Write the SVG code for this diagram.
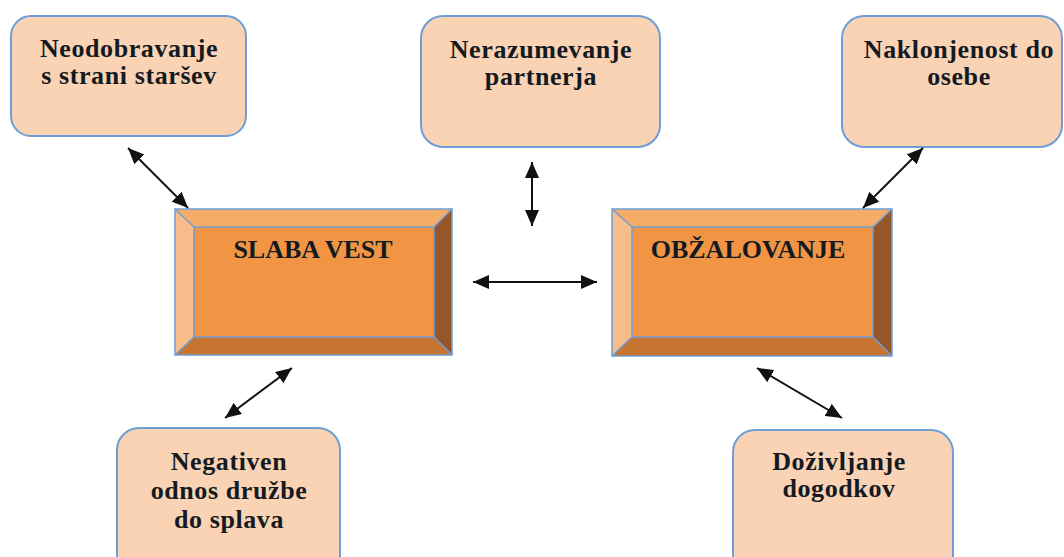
<svg xmlns="http://www.w3.org/2000/svg" width="1064" height="557" viewBox="0 0 1064 557">
<style>
.bg{fill:#ffffff}
.sbox{fill:#F9D3B4;stroke:#6E9ED6;stroke-width:2}
.st{font-family:"Liberation Serif","Times New Roman",serif;font-weight:bold;font-size:26px;fill:#141a1f;text-anchor:middle;letter-spacing:0.6px}
.mt{font-family:"Liberation Serif","Times New Roman",serif;font-weight:bold;font-size:26px;fill:#141a1f;text-anchor:middle}
.face{fill:#F19545}
.btop{fill:#F5AC68}
.bleft{fill:#F7BC8A}
.bright{fill:#975628}
.bbot{fill:#C77431}
.edge{fill:none;stroke:#6E9ED6;stroke-width:1.5}
.conn{stroke:#111;stroke-width:2;fill:none;marker-start:url(#ah);marker-end:url(#ah)}
</style>
<defs>
<marker id="ah" viewBox="0 0 16 14" refX="16" refY="7" markerWidth="16" markerHeight="14" markerUnits="userSpaceOnUse" orient="auto-start-reverse">
<path d="M0,0 L16,7 L0,14 Z" fill="#111"/>
</marker>
</defs>
<rect class="bg" x="0" y="0" width="1064" height="557"/>

<g id="n-neodobravanje">
<rect class="sbox" x="11" y="16" width="235" height="120" rx="20"/>
<text class="st" x="129" y="57">Neodobravanje</text>
<text class="st" x="129" y="84">s strani staršev</text>
</g>

<g id="n-nerazumevanje">
<rect class="sbox" x="421" y="16" width="239" height="131" rx="22"/>
<text class="st" x="541" y="58">Nerazumevanje</text>
<text class="st" x="541" y="85">partnerja</text>
</g>

<g id="n-naklonjenost">
<rect class="sbox" x="842" y="16" width="220" height="131" rx="22"/>
<text class="st" x="959" y="58">Naklonjenost do</text>
<text class="st" x="959" y="85">osebe</text>
</g>

<g id="n-negativen">
<rect class="sbox" x="117" y="428" width="223" height="150" rx="22"/>
<text class="st" x="229" y="470">Negativen</text>
<text class="st" x="229" y="499">odnos družbe</text>
<text class="st" x="229" y="528">do splava</text>
</g>

<g id="n-dozivljanje">
<rect class="sbox" x="733" y="430" width="220" height="150" rx="22"/>
<text class="st" x="839" y="470">Doživljanje</text>
<text class="st" x="839" y="497">dogodkov</text>
</g>

<g id="n-slaba-vest">
<polygon class="btop" points="175,209 452,209 434,227 194,227"/>
<polygon class="bleft" points="175,209 194,227 194,337 175,355"/>
<polygon class="bright" points="452,209 452,355 434,337 434,227"/>
<polygon class="bbot" points="175,355 194,337 434,337 452,355"/>
<rect class="face" x="194" y="227" width="240" height="110"/>
<rect class="edge" x="175" y="209" width="277" height="146"/>
<rect class="edge" x="194" y="227" width="240" height="110"/>
<path class="edge" d="M175,209 L194,227 M452,209 L434,227 M175,355 L194,337 M452,355 L434,337"/>
<text class="mt" x="313" y="258">SLABA VEST</text>
</g>

<g id="n-obzalovanje">
<polygon class="btop" points="612,209 892,209 873,227 632,227"/>
<polygon class="bleft" points="612,209 632,227 632,337 612,356"/>
<polygon class="bright" points="892,209 892,356 873,337 873,227"/>
<polygon class="bbot" points="612,356 632,337 873,337 892,356"/>
<rect class="face" x="632" y="227" width="241" height="110"/>
<rect class="edge" x="612" y="209" width="280" height="147"/>
<rect class="edge" x="632" y="227" width="241" height="110"/>
<path class="edge" d="M612,209 L632,227 M892,209 L873,227 M612,356 L632,337 M892,356 L873,337"/>
<text class="mt" x="748" y="258">OBŽALOVANJE</text>
</g>

<g id="connectors">
<line class="conn" x1="128" y1="148" x2="188" y2="208"/>
<line class="conn" x1="532" y1="162" x2="532" y2="226"/>
<line class="conn" x1="473" y1="282" x2="597" y2="282"/>
<line class="conn" x1="923" y1="148" x2="863" y2="208"/>
<line class="conn" x1="292" y1="368" x2="225" y2="418"/>
<line class="conn" x1="757" y1="368" x2="842" y2="418"/>
</g>
</svg>
